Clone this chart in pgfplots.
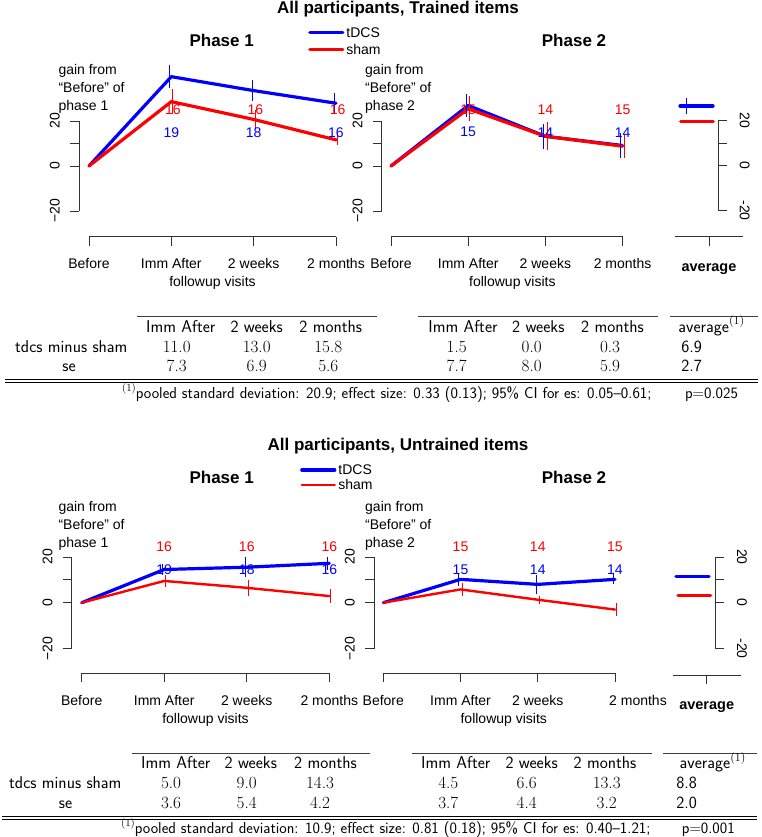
\documentclass[border=0pt]{standalone}
\usepackage{fontspec}
\setmainfont{Liberation Sans}
\usepackage{pgfplots}
\pgfplotsset{compat=1.18}
\newcommand\fs[1]{\fontsize{#1}{#1}\selectfont}
\newcommand\tf{\sffamily\fontsize{17.1}{20}\selectfont}
\newcommand\ff{\sffamily\fontsize{15.8}{19}\selectfont}
\newcommand\nm[1]{{\fontfamily{lmr}\selectfont #1}}
\newcommand\fnsup{\raisebox{0.42em}{\fontfamily{lmr}\fontsize{11}{11}\selectfont(1)}}
\newcommand\fnsupb{\raisebox{0.42em}{\fontfamily{lmr}\fontsize{12}{12}\selectfont(1)}}
\tikzset{
  T/.style={inner sep=0pt, anchor=base, font=\fs{14}},
  TW/.style={inner sep=0pt, anchor=base west, font=\fs{14}},
  TT/.style={inner sep=0pt, anchor=base, font=\tf},
  TF/.style={inner sep=0pt, anchor=base, font=\ff},
  TH/.style={inner sep=0pt, anchor=base, font=\bfseries\fs{17}},
  rule/.style={line width=0.8pt, black!75},
}
\pgfplotsset{
  Rline/.style={axis line style={line width=0.8pt, black!80}, tick style={line width=0.8pt, black!80}},
  Rybase/.style={Rline, anchor=south west, clip=false, ymin=-20, ymax=20,
    axis x line=none, axis y line*=left,
    ytick={-20,0,10,20},
    ytick align=outside, major tick length=9pt,
    yticklabel style={anchor=south, inner sep=0pt, font=\fs{14}}},
  Rdata/.style={Rybase, yticklabels={−20,0,{},20}, yticklabel style={rotate=90}, yticklabel shift=10pt},
  Ravg/.style={Rybase, axis y line*=right, yticklabels={-20,0,{},20}, yticklabel style={rotate=-90}, major tick length=8pt, yticklabel shift=13pt},
  Rx/.style={Rline, anchor=south west, clip=false, axis y line=none, axis x line*=bottom,
    ymin=0, ymax=1, y=1pt, xmin=0, xmax=3, xtick={0,1,2,3},
    xtick align=outside, major tick length=9pt,
    xticklabel style={anchor=base, inner sep=0pt, font=\fs{14}}, xticklabel shift=23pt,
    xlabel={followup visits},
    xlabel style={at={(axis description cs:0.5,0)}, anchor=base, yshift=-50pt, inner sep=0pt, font=\fs{14}}},
  ebar/.style={forget plot, color=#1, only marks, mark=*, mark size=0pt, mark options={draw=none, fill=none},
    error bars/y dir=both, error bars/y explicit, error bars/error mark=none,
    error bars/error bar style={line width=1pt, #1}},
  cnt/.style={forget plot, only marks, mark=*, mark size=0pt, mark options={draw=none, fill=none},
    point meta=explicit symbolic, nodes near coords,
    every node near coord/.append style={anchor=center, text=#1, font=\fs{14}, inner sep=0pt}},
  blueL/.style={color=blue, line width=3.2pt, line cap=round, line join=round},
  redL/.style={color=red, line width=#1, line cap=round, line join=round},
  redL/.default=3.2pt,
  leg/.style={legend style={at={#1}, anchor=west, draw=none, fill=none, inner sep=0pt,
     font=\fs{14}, column sep=2pt, nodes={inner sep=0pt, text depth=0pt}},
     legend cell align=left,
     legend image code/.code={\draw[##1] (0pt,0pt) -- (33pt,0pt);}},
}
\begin{document}
\begin{tikzpicture}
\useasboundingbox (0pt,0pt) rectangle (762pt,-837pt);
% ================= TOP BLOCK =================
\node[TH] at (398pt,-13.5pt) {All participants, Trained items};
\node[TH] at (221.7pt,-46.5pt) {Phase 1};
\node[TH] at (574pt,-46.5pt) {Phase 2};
\node[TW] at (58.3pt,-74.5pt) {gain from};
\node[TW] at (58.3pt,-92.5pt) {“Before” of};
\node[TW] at (58.3pt,-110.5pt) {phase 1};
\node[TW] at (365pt,-74.5pt) {gain from};
\node[TW] at (365pt,-92.5pt) {“Before” of};
\node[TW] at (365pt,-110.5pt) {phase 2};

% Phase 1 (trained)
\begin{axis}[Rdata, at={(79pt,-211pt)}, x=82.33pt, y=2.25pt, xmin=-0.1215, xmax=3.1,
  leg={(0.8635,1.891)}, legend style={row sep=7pt}]
\addplot[blueL] coordinates {(0,0) (1,39.7) (2,33.5) (3,27.9)};
\addplot[redL] coordinates {(0,0) (1,28.6) (2,20.7) (3,11.6)};
\legend{tDCS,sham}
\addplot[ebar=blue] coordinates {(0.98,39.7) +- (0,5.2) (1.98,33.5) +- (0,4.6) (2.98,27.9) +- (0,4.4)};
\addplot[ebar=red] coordinates {(1.02,28.6) +- (0,5.5) (2.02,20.7) +- (0,4.1) (3.02,11.6) +- (0,2.4)};
\addplot[cnt=red] coordinates {(1.02,25) [16] (2.02,25) [16] (3.02,25) [16]};
\addplot[cnt=blue] coordinates {(1,15) [19] (2,15) [18] (3,15) [16]};
\end{axis}
\begin{axis}[Rx, at={(89pt,-236.7pt)}, x=82.33pt,
  xticklabels={Before, Imm After, 2 weeks, 2 months}]
\end{axis}

% Phase 2 (trained)
\begin{axis}[Rdata, at={(381.7pt,-211pt)}, x=77.2pt, y=2.25pt, xmin=-0.1205, xmax=3.1]
\addplot[blueL] coordinates {(0,0) (1,26.9) (2,13.2) (3,9.1)};
\addplot[redL] coordinates {(0,0) (1,25.4) (2,13.2) (3,8.8)};
\addplot[ebar=blue] coordinates {(0.978,26.9) +- (0,5.2) (1.978,13.2) +- (0,5.6) (2.978,9.1) +- (0,5.4)};
\addplot[ebar=red] coordinates {(1.022,25.4) +- (0,5.6) (2.022,13.2) +- (0,6.2) (3.022,8.8) +- (0,5.3)};
\addplot[cnt=red] coordinates {(1,25) [15] (2,25) [14] (3,25) [15]};
\addplot[cnt=blue] coordinates {(1,15) [15] (2,15) [14] (3,15) [14]};
\end{axis}
\begin{axis}[Rx, at={(391pt,-236.7pt)}, x=77.2pt,
  xticklabels={Before, Imm After, 2 weeks, 2 months},
  xlabel style={at={(axis description cs:0.524,0)}}]
\end{axis}

% Average (trained)
\begin{axis}[Ravg, at={(675pt,-210.5pt)}, x=1pt, y=2.25pt, xmin=675, xmax=718.5]
\addplot[blueL] coordinates {(680,26.4) (713,26.4)};
\addplot[redL] coordinates {(680.7,19.5) (713.3,19.5)};
\addplot[ebar=blue] coordinates {(686.7,26.4) +- (0,3.5)};
\end{axis}
\begin{axis}[Rx, at={(675pt,-236.7pt)}, x=68pt, xmin=0, xmax=1, xtick={0.5},
  xticklabels={average}, xticklabel style={font=\bfseries\fs{14.5}}, xticklabel shift=25.4pt, xlabel={}]
\end{axis}

% Table (trained)
\draw[rule] (137pt,-316.7pt) -- (377pt,-316.7pt);
\draw[rule] (418pt,-316.7pt) -- (658pt,-316.7pt);
\draw[rule] (670pt,-316.7pt) -- (758pt,-316.7pt);
\node[TT] at (180.8pt,-332pt) {Imm After};
\node[TT] at (256.7pt,-332pt) {2 weeks};
\node[TT] at (330.8pt,-332pt) {2 months};
\node[TT] at (463pt,-332pt) {Imm After};
\node[TT] at (538.3pt,-332pt) {2 weeks};
\node[TT] at (612.5pt,-332pt) {2 months};
\node[TT] at (711.3pt,-332pt) {average\fnsupb};
\node[TT] at (71.3pt,-352pt) {tdcs minus sham};
\node[TT] at (176.7pt,-352pt) {\nm{11.0}};
\node[TT] at (256.7pt,-352pt) {\nm{13.0}};
\node[TT] at (328.3pt,-352pt) {\nm{15.8}};
\node[TT] at (456.7pt,-352pt) {\nm{1.5}};
\node[TT] at (531.7pt,-352pt) {\nm{0.0}};
\node[TT] at (610pt,-352pt) {\nm{0.3}};
\node[TT] at (691.7pt,-352pt) {6.9};
\node[TT] at (69pt,-371.5pt) {se};
\node[TT] at (176.7pt,-371.5pt) {\nm{7.3}};
\node[TT] at (256.7pt,-371.5pt) {\nm{6.9}};
\node[TT] at (328.3pt,-371.5pt) {\nm{5.6}};
\node[TT] at (456.7pt,-371.5pt) {\nm{7.7}};
\node[TT] at (531.7pt,-371.5pt) {\nm{8.0}};
\node[TT] at (610pt,-371.5pt) {\nm{5.9}};
\node[TT] at (691.7pt,-371.5pt) {2.7};
\draw[line width=1.2pt] (5pt,-379.8pt) -- (758pt,-379.8pt);
\draw[line width=0.6pt] (5pt,-382.6pt) -- (758pt,-382.6pt);
\node[TF, anchor=base east] at (651.7pt,-398pt) {\fnsup pooled standard deviation: 20.9; effect size: 0.33 (0.13); 95\% CI for es: 0.05–0.61;};
\node[TF] at (711.5pt,-398pt) {p\nm{=}0.025};

% ================= BOTTOM BLOCK =================
\node[TH] at (398pt,-450.2pt) {All participants, Untrained items};
\node[TH] at (221.7pt,-483.2pt) {Phase 1};
\node[TH] at (574pt,-483.2pt) {Phase 2};
\node[TW] at (58.3pt,-511.2pt) {gain from};
\node[TW] at (58.3pt,-529.2pt) {“Before” of};
\node[TW] at (58.3pt,-547.2pt) {phase 1};
\node[TW] at (365pt,-511.2pt) {gain from};
\node[TW] at (365pt,-529.2pt) {“Before” of};
\node[TW] at (365pt,-547.2pt) {phase 2};

% Phase 1 (untrained)
\begin{axis}[Rdata, at={(71.7pt,-648.5pt)}, x=82.53pt, y=2.29pt, xmin=-0.1212, xmax=3.1,
  leg={(0.8588,1.867)}, legend style={row sep=5pt}]
\addplot[blueL] coordinates {(0,0) (1,14.5) (2,15.5) (3,17.2)};
\addplot[redL=2.4pt] coordinates {(0,0) (1,9.5) (2,6.5) (3,2.9)};
\legend{tDCS,sham}
\addplot[ebar=blue] coordinates {(0.98,14.5) +- (0,2.5) (1.98,15.5) +- (0,4.4) (2.98,17.2) +- (0,2.9)};
\addplot[ebar=red] coordinates {(1.02,9.5) +- (0,2.6) (2.02,6.5) +- (0,3.5) (3.02,2.9) +- (0,3.1)};
\addplot[cnt=red] coordinates {(1,24.5) [16] (2,24.5) [16] (3,24.5) [16]};
\addplot[cnt=blue] coordinates {(1,14.6) [19] (2,14.6) [18] (3,14.6) [16]};
\end{axis}
\begin{axis}[Rx, at={(81.7pt,-673.3pt)}, x=82.53pt,
  xticklabels={Before, Imm After, 2 weeks, 2 months}]
\end{axis}

% Phase 2 (untrained)
\begin{axis}[Rdata, at={(374pt,-648.5pt)}, x=77.23pt, y=2.29pt, xmin=-0.1204, xmax=3.1]
\addplot[blueL] coordinates {(0,0) (1,10.2) (2,8.0) (3,10.2)};
\addplot[redL=2.4pt] coordinates {(0,0) (1,5.8) (2,1.3) (3,-3.0)};
\addplot[ebar=blue] coordinates {(0.978,10.2) +- (0,2.7) (1.978,8.0) +- (0,4.0) (2.978,10.2) +- (0,2.2)};
\addplot[ebar=red] coordinates {(1.022,5.8) +- (0,2.7) (2.022,1.3) +- (0,1.7) (3.022,-3.0) +- (0,2.8)};
\addplot[cnt=red] coordinates {(1,24.5) [15] (2,24.5) [14] (3,24.5) [15]};
\addplot[cnt=blue] coordinates {(1,14.6) [15] (2,14.6) [14] (3,14.6) [14]};
\end{axis}
\begin{axis}[Rx, at={(383.3pt,-673.3pt)}, x=77.23pt,
  xticklabels={Before, Imm After, 2 weeks, \hspace*{46pt}2 months},
  xlabel style={at={(axis description cs:0.52,0)}}]
\end{axis}

% Average (untrained)
\begin{axis}[Ravg, at={(672.7pt,-648.5pt)}, x=1pt, y=2.29pt, xmin=672.7, xmax=715.7]
\addplot[blueL] coordinates {(676,11.5) (709,11.5)};
\addplot[redL] coordinates {(678,3.0) (710.7,3.0)};
\end{axis}
\begin{axis}[Rx, at={(672.7pt,-675pt)}, x=68pt, xmin=0, xmax=1, xtick={0.5},
  xticklabels={average}, xticklabel style={font=\bfseries\fs{14.5}}, xticklabel shift=25.4pt, xlabel={}]
\end{axis}

% Table (untrained)
\draw[rule] (131.7pt,-753.4pt) -- (370pt,-753.4pt);
\draw[rule] (411.7pt,-753.4pt) -- (651.7pt,-753.4pt);
\draw[rule] (663.3pt,-753.4pt) -- (757pt,-753.4pt);
\node[TT] at (175.8pt,-768.7pt) {Imm After};
\node[TT] at (250.8pt,-768.7pt) {2 weeks};
\node[TT] at (325.5pt,-768.7pt) {2 months};
\node[TT] at (455.8pt,-768.7pt) {Imm After};
\node[TT] at (531.7pt,-768.7pt) {2 weeks};
\node[TT] at (605pt,-768.7pt) {2 months};
\node[TT] at (712.5pt,-768.7pt) {average\fnsupb};
\node[TT] at (65.3pt,-788.7pt) {tdcs minus sham};
\node[TT] at (171pt,-788.7pt) {\nm{5.0}};
\node[TT] at (246.7pt,-788.7pt) {\nm{9.0}};
\node[TT] at (320pt,-788.7pt) {\nm{14.3}};
\node[TT] at (448.3pt,-788.7pt) {\nm{4.5}};
\node[TT] at (526.7pt,-788.7pt) {\nm{6.6}};
\node[TT] at (606.7pt,-788.7pt) {\nm{13.3}};
\node[TT] at (686.7pt,-788.7pt) {8.8};
\node[TT] at (65.5pt,-808.2pt) {se};
\node[TT] at (171pt,-808.2pt) {\nm{3.6}};
\node[TT] at (246.7pt,-808.2pt) {\nm{5.4}};
\node[TT] at (320pt,-808.2pt) {\nm{4.2}};
\node[TT] at (448.3pt,-808.2pt) {\nm{3.7}};
\node[TT] at (526.7pt,-808.2pt) {\nm{4.4}};
\node[TT] at (606.7pt,-808.2pt) {\nm{3.2}};
\node[TT] at (686.7pt,-808.2pt) {2.0};
\draw[line width=1.2pt] (2pt,-816.5pt) -- (757pt,-816.5pt);
\draw[line width=0.6pt] (2pt,-819.3pt) -- (757pt,-819.3pt);
\node[TF, anchor=base east] at (650.7pt,-833pt) {\fnsup pooled standard deviation: 10.9; effect size: 0.81 (0.18); 95\% CI for es: 0.40–1.21;};
\node[TF] at (708.3pt,-833pt) {p\nm{=}0.001};
\end{tikzpicture}
\end{document}
